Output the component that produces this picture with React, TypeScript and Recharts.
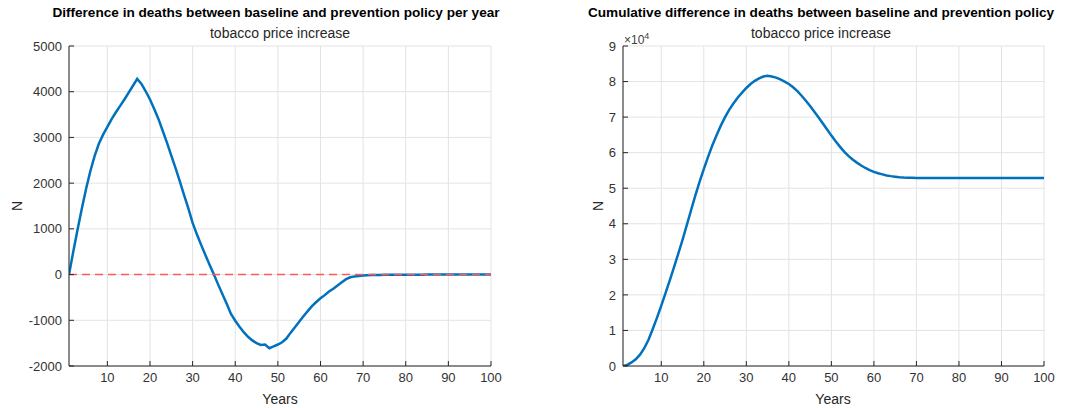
import React from "react"
import { LineChart, Line, XAxis, YAxis, CartesianGrid, ReferenceLine } from "recharts"

// simulation years 1..100
const years = Array.from({ length: 100 }, (_, i) => i + 1)

// yearly difference in deaths (baseline minus policy)
const yearlyDiff = [
  0, 500, 980, 1440, 1870, 2260, 2590, 2860, 3060, 3230,
  3400, 3550, 3690, 3830, 3980, 4130, 4280, 4170, 4010, 3830,
  3620, 3400, 3140, 2880, 2600, 2330, 2040, 1740, 1450, 1130,
  880, 650, 430, 210, 0, -220, -430, -640, -860, -1010,
  -1140, -1260, -1360, -1440, -1500, -1540, -1530, -1610, -1570, -1530,
  -1480, -1400, -1270, -1150, -1030, -910, -800, -690, -600, -520,
  -450, -370, -310, -240, -170, -100, -60, -40, -30, -22,
  -16, -12, -9, -7, -5, -4, -4, -3, -3, -3,
  -2, -2, -2, -2, -1, -1, -1, -1, -1, -1,
  -1, 0, 0, 0, 0, 0, 0, 0, 0, 0,
]

// cumulative difference in deaths
const cumulativeDiff = [
  0, 300, 1000, 1900, 3200, 5000, 7400, 10400, 13600, 17000,
  20500, 24100, 27800, 31600, 35500, 39600, 43800, 47900, 51800, 55400,
  58800, 62000, 64900, 67600, 70000, 72100, 73900, 75500, 76900, 78200,
  79300, 80200, 80900, 81400, 81600, 81400, 81100, 80600, 80000, 79300,
  78400, 77300, 76000, 74600, 73100, 71500, 69900, 68200, 66500, 64800,
  63200, 61700, 60300, 59100, 58100, 57200, 56400, 55700, 55100, 54600,
  54200, 53900, 53600, 53400, 53250, 53100, 53000, 52950, 52920, 52900,
  52900, 52900, 52900, 52900, 52900, 52900, 52900, 52900, 52900, 52900,
  52900, 52900, 52900, 52900, 52900, 52900, 52900, 52900, 52900, 52900,
  52900, 52900, 52900, 52900, 52900, 52900, 52900, 52900, 52900, 52900,
]

const xTicks = [10, 20, 30, 40, 50, 60, 70, 80, 90, 100]
const yTicksYearly = [-2000, -1000, 0, 1000, 2000, 3000, 4000, 5000]
const yTicksCumulative = [0, 10000, 20000, 30000, 40000, 50000, 60000, 70000, 80000, 90000]

const yearlyData = years.map((year, i) => ({ year, value: yearlyDiff[i] }))
const cumulativeData = years.map((year, i) => ({ year, value: cumulativeDiff[i] }))

const FONT = '"Liberation Sans", Arial, Helvetica, sans-serif'
const AXIS = "#262626"
const TICK_TEXT = { fill: "#333", fontSize: 13, fontFamily: FONT }

function Text({ x, y, size = 14, bold = false, rotate = false, children }: any) {
  return (
    <div
      style={{
        position: "absolute",
        left: x - 300,
        top: y - 9,
        width: 600,
        height: 18,
        lineHeight: "18px",
        textAlign: "center",
        fontSize: size,
        fontWeight: bold ? "bold" : "normal",
        fontFamily: FONT,
        color: bold ? "#000" : "#262626",
        transform: rotate ? "rotate(-90deg)" : undefined,
        whiteSpace: "nowrap",
      }}
    >
      {children}
    </div>
  )
}

function Panel({ data, yTicks, yDomain, yFormat, yAxisWidth, marginRight, zeroLine }: any) {
  return (
    <LineChart
      width={543}
      height={408}
      data={data}
      margin={{ top: 46, right: marginRight, bottom: 0, left: 0 }}
    >
      <CartesianGrid stroke="#e3e3e3" strokeWidth={1} />
      <XAxis
        dataKey="year"
        type="number"
        domain={[1, 100]}
        ticks={xTicks}
        allowDataOverflow
        height={42}
        stroke={AXIS}
        tickSize={-5}
        tickMargin={12}
        tick={TICK_TEXT}
      />
      <XAxis
        xAxisId="top"
        orientation="top"
        type="number"
        domain={[1, 100]}
        ticks={xTicks}
        allowDataOverflow
        height={0}
        stroke={AXIS}
        tickSize={-5}
        tick={false}
      />
      <YAxis
        type="number"
        domain={yDomain}
        ticks={yTicks}
        allowDataOverflow
        width={yAxisWidth}
        stroke={AXIS}
        tickSize={-5}
        tickMargin={12}
        tick={TICK_TEXT}
        tickFormatter={yFormat}
      />
      <YAxis
        yAxisId="right"
        orientation="right"
        type="number"
        domain={yDomain}
        ticks={yTicks}
        allowDataOverflow
        width={0}
        stroke={AXIS}
        tickSize={-5}
        tick={false}
      />
      <Line
        type="linear"
        dataKey="value"
        stroke="#0072BD"
        strokeWidth={2.5}
        dot={false}
        isAnimationActive={false}
      />
      {zeroLine && (
        <ReferenceLine y={0} stroke="#ff5a5a" strokeWidth={1.5} strokeDasharray="8 5" />
      )}
    </LineChart>
  )
}

export default function App() {
  return (
    <div
      style={{
        position: "absolute",
        left: 0,
        top: 0,
        width: 1086,
        height: 408,
        background: "#fff",
        overflow: "hidden",
      }}
    >
      <div style={{ position: "absolute", left: 0, top: 0 }}>
        <Panel
          data={yearlyData}
          yTicks={yTicksYearly}
          yDomain={[-2000, 5000]}
          yFormat={(v: number) => String(v)}
          yAxisWidth={69}
          marginRight={52}
          zeroLine
        />
      </div>
      <div style={{ position: "absolute", left: 543, top: 0 }}>
        <Panel
          data={cumulativeData}
          yTicks={yTicksCumulative}
          yDomain={[0, 90000]}
          yFormat={(v: number) => String(v / 10000)}
          yAxisWidth={80}
          marginRight={42}
        />
      </div>

      <Text x={276} y={13} size={13.6} bold>Difference in deaths between baseline and prevention policy per year</Text>
      <Text x={280} y={33}>tobacco price increase</Text>
      <Text x={280} y={399}>Years</Text>
      <Text x={17} y={206} rotate>N</Text>

      <Text x={821} y={13} size={13.6} bold>Cumulative difference in deaths between baseline and prevention policy</Text>
      <Text x={821} y={33}>tobacco price increase</Text>
      <Text x={833} y={399}>Years</Text>
      <Text x={598} y={206} rotate>N</Text>

      <div
        style={{
          position: "absolute",
          left: 624,
          top: 31,
          fontSize: 12,
          fontFamily: FONT,
          color: "#404040",
          whiteSpace: "nowrap",
        }}
      >
        ×10<sup style={{ fontSize: 9, verticalAlign: "5px" }}>4</sup>
      </div>
    </div>
  )
}
